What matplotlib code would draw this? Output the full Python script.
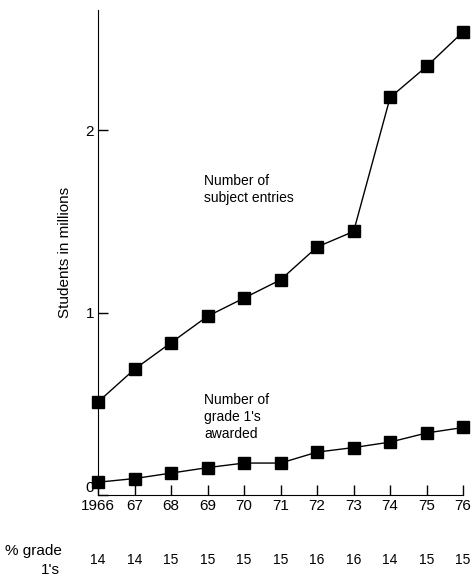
import matplotlib.pyplot as plt
from matplotlib.transforms import blended_transform_factory

years = [1966, 1967, 1968, 1969, 1970, 1971, 1972, 1973, 1974, 1975, 1976]
year_labels = ["1966", "67", "68", "69", "70", "71", "72", "73", "74", "75", "76"]
subject_entries = [0.51, 0.69, 0.835, 0.98, 1.08, 1.18, 1.36, 1.445, 2.18, 2.35, 2.54]
grade1_awarded = [0.07, 0.09, 0.12, 0.15, 0.175, 0.175, 0.235, 0.26, 0.29, 0.34, 0.37]
pct_grade1 = ["14", "14", "15", "15", "15", "15", "16", "16", "14", "15", "15"]

plt.rcParams['font.family'] = ['Liberation Sans', 'DejaVu Sans']

fig = plt.figure(figsize=(4.76, 5.83), dpi=100)
ax = fig.add_axes([0.206, 0.151, 0.767, 0.832])

for series in (subject_entries, grade1_awarded):
    ax.plot(years, series, color='black', lw=1, marker='s', ms=8,
            mfc='black', mec='black', clip_on=False)

ax.set_xlim(1966, 1976)
ax.set_ylim(0, 2.66)
ax.set_xticks(years)
ax.set_xticklabels(year_labels, fontsize=11)
ax.set_yticks([0, 1, 2])
ax.set_yticklabels(["0", "1", "2"], fontsize=11)
ax.tick_params(direction='in', length=7, width=1, pad=3)
ax.get_yticklabels()[0].set_va('bottom')  # keep the 0 clear of 1966
ax.spines['top'].set_visible(False)
ax.spines['right'].set_visible(False)
ax.set_ylabel("Students in millions", fontsize=11, labelpad=10)

ax.text(1968.9, 1.76, "Number of\nsubject entries", fontsize=10, va='top',
        linespacing=1.3)
ax.text(1968.9, 0.56, "Number of\ngrade 1's\nawarded", fontsize=10, va='top',
        linespacing=1.3)

# row of percentages under the axis
trans = blended_transform_factory(ax.transData, fig.transFigure)
for yr, p in zip(years, pct_grade1):
    ax.text(yr, 0.04, p, fontsize=10, ha='center', va='center', transform=trans)
fig.text(0.01, 0.055, "% grade", fontsize=11, ha='left', va='center')
fig.text(0.085, 0.022, "1's", fontsize=11, ha='left', va='center')

fig.savefig("out.png", dpi=100)
